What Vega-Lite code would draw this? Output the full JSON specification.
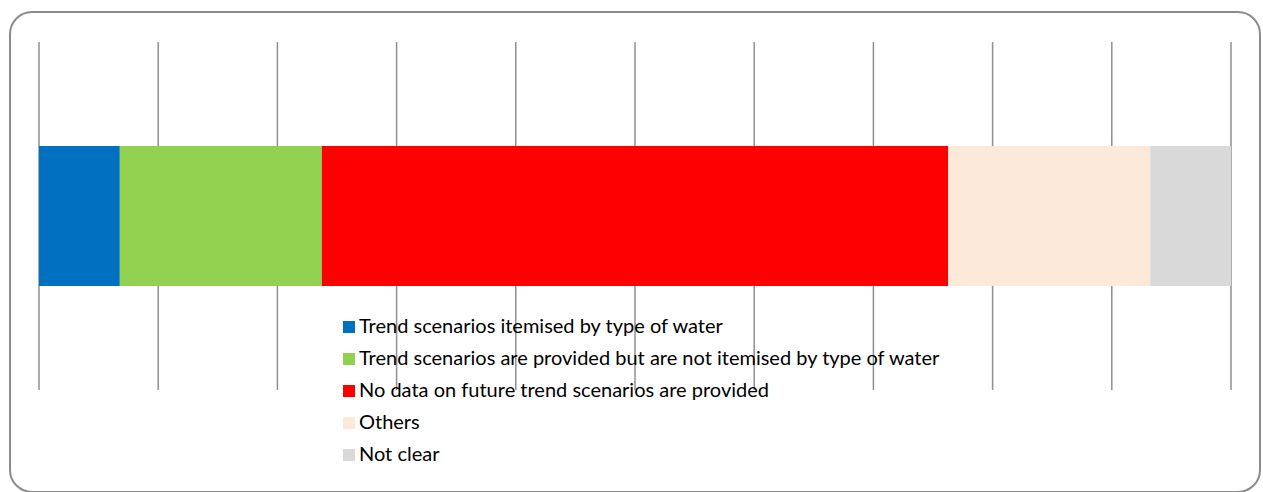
{
  "$schema": "https://vega.github.io/schema/vega-lite/v6.json",
  "width": 1250,
  "height": 480,
  "autosize": {"type": "none"},
  "padding": {"left": 10, "top": 12, "right": 3, "bottom": 0},
  "background": "white",
  "datasets": {
    "plans": [
      {"row": "RBMPs", "category": "Trend scenarios itemised by type of water", "count": 4},
      {"row": "RBMPs", "category": "Trend scenarios are provided but are not itemised by type of water", "count": 10},
      {"row": "RBMPs", "category": "No data on future trend scenarios are provided", "count": 31},
      {"row": "RBMPs", "category": "Others", "count": 10},
      {"row": "RBMPs", "category": "Not clear", "count": 4}
    ],
    "gridlines": [
      {"row": "RBMPs", "share": 0},
      {"row": "RBMPs", "share": 0.1},
      {"row": "RBMPs", "share": 0.2},
      {"row": "RBMPs", "share": 0.3},
      {"row": "RBMPs", "share": 0.4},
      {"row": "RBMPs", "share": 0.5},
      {"row": "RBMPs", "share": 0.6},
      {"row": "RBMPs", "share": 0.7},
      {"row": "RBMPs", "share": 0.8},
      {"row": "RBMPs", "share": 0.9},
      {"row": "RBMPs", "share": 1}
    ]
  },
  "layer": [
    {
      "data": {"name": "gridlines"},
      "mark": {"type": "tick", "color": "#909090", "thickness": 1.5, "size": 348, "opacity": 1},
      "encoding": {
        "x": {"field": "share", "type": "quantitative", "scale": {"domain": [0, 1], "range": [29, 1221], "nice": false, "zero": false}, "axis": null},
        "y": {"field": "row", "type": "nominal", "scale": {"paddingInner": 0.17647, "paddingOuter": 1, "align": 0.394}, "axis": null}
      }
    },
    {
      "data": {"name": "plans"},
      "mark": {"type": "bar"},
      "encoding": {
        "x": {"field": "count", "type": "quantitative", "stack": "normalize"},
        "y": {"field": "row", "type": "nominal"},
        "color": {
          "field": "category",
          "type": "nominal",
          "sort": [
            "Trend scenarios itemised by type of water",
            "Trend scenarios are provided but are not itemised by type of water",
            "No data on future trend scenarios are provided",
            "Others",
            "Not clear"
          ],
          "scale": {
            "domain": [
              "Trend scenarios itemised by type of water",
              "Trend scenarios are provided but are not itemised by type of water",
              "No data on future trend scenarios are provided",
              "Others",
              "Not clear"
            ],
            "range": ["#0070C0", "#92D050", "#FF0000", "#FDE9D9", "#D9D9D9"]
          },
          "legend": {
            "title": null,
            "orient": "none",
            "legendX": 329,
            "legendY": 305,
            "symbolType": "square",
            "symbolSize": 144,
            "symbolStrokeWidth": 0,
            "labelFont": "Lato",
            "labelFontSize": 20,
            "labelColor": "#000000",
            "labelOffset": 0,
            "labelLimit": 0,
            "rowPadding": 12,
            "padding": 0
          }
        },
        "order": {"field": "sortIndex"}
      }
    }
  ],
  "config": {
    "view": {"stroke": "#8c8c8c", "strokeWidth": 2, "cornerRadius": 22},
    "tick": {"bandSize": 1}
  }
}
